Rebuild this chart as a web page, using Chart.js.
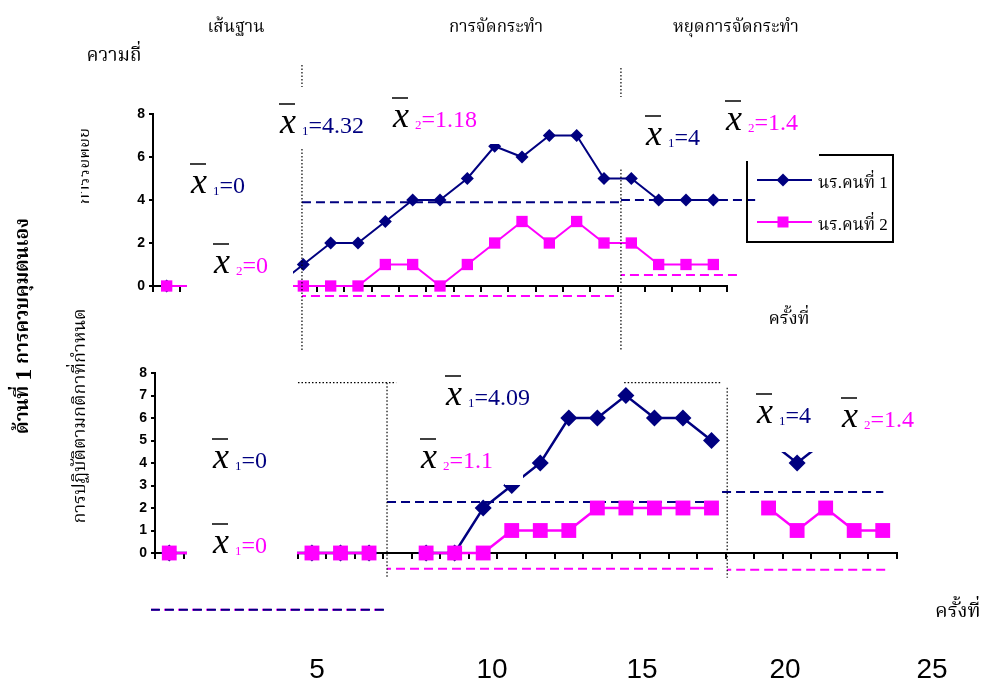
<!DOCTYPE html>
<html>
<head>
<meta charset="utf-8">
<script src="https://cdn.jsdelivr.net/npm/chart.js@4.4.0/dist/chart.umd.min.js"></script>
<style>
html, body { margin: 0; padding: 0; background: #fff; }
#wrap { position: relative; width: 983px; height: 684px; overflow: hidden; }
canvas, svg { position: absolute; left: 0; top: 0; }
</style>
</head>
<body>
<div id="wrap">
  <canvas id="chartTop" width="983" height="684"></canvas>
  <canvas id="chartBottom" width="983" height="684"></canvas>
  <svg id="overlay" width="983" height="684" xmlns="http://www.w3.org/2000/svg"></svg>
</div>
<script>
const NAVY = "#000080";
const PINK = "#ff00ff";
const THAI = "'Noto Serif Thai', Norasi, 'Noto Sans Thai', Loma, Garuda, 'Tlwg Typo', 'DejaVu Sans', sans-serif";
const SERIF = "'Liberation Serif', 'Times New Roman', 'DejaVu Serif', serif";

// top chart: การรอคอย
const topSessions = [1, 2, 3, 4, 5, 6, 7, 8, 9, 10, 11, 12, 13, 14, 15, 16, 17, 18, 19, 20, 21];
const topStudent1 = [0, 0, 0, 0, 0, 1, 2, 2, 3, 4, 4, 5, 6.5, 6, 7, 7, 5, 5, 4, 4, 4];
const topStudent2 = [0, 0, 0, 0, 0, 0, 0, 0, 1, 1, 0, 1, 2, 3, 2, 3, 2, 2, 1, 1, 1];
const topYTicks = [0, 2, 4, 6, 8];

// bottom chart: การปฏิบัติตามกติกาที่กำหนด
const bottomSessions = [1, 2, 3, 4, 5, 6, 7, 8, 9, 10, 11, 12, 13, 14, 15, 16, 17, 18, 19, 20, 21, 22, 23, 24, 25, 26];
const bottomStudent1 = [0, 0, 0, 0, 0, 0, 0, 0, null, 0, 0, 2, 3, 4, 6, 6, 7, 6, 6, 5, null, 5, 4, 5, null, null];
const bottomStudent2 = [0, 0, 0, 0, 0, 0, 0, 0, null, 0, 0, 0, 1, 1, 1, 2, 2, 2, 2, 2, null, 2, 1, 2, 1, 1];
const bottomYTicks = [0, 1, 2, 3, 4, 5, 6, 7, 8];

// mean lines as drawn: [from session, to session, level]
const topMean1 = [[5.95, 17.62, 3.9], [17.62, 22.53, 4.0]];
const topMean2 = [[5.95, 17.48, -0.47], [17.62, 21.9, 0.51]];
const bottomMean1 = [[0.36, 8.56, -2.52], [8.63, 20.06, 2.27], [20.37, 26.02, 2.71]];
const bottomMean2 = [[0.36, 8.56, -2.52], [8.63, 20.23, -0.7], [20.55, 26.19, -0.74]];

// phase change lines: [[session, level], [session, level]]
const topPhase = [[[5.95, 10.28], [5.95, -2.98]], [[17.62, 10.14], [17.62, -2.98]]];
const bottomPhase = [
    [[5.51, 7.57], [8.95, 7.57]], [[8.63, 7.57], [8.63, -1.1]],
    [[16.94, 7.57], [20.37, 7.57]], [[20.55, 7.35], [20.55, -1.1]]
];

const phaseNames = ["เส้นฐาน", "การจัดกระทำ", "หยุดการจัดกระทำ"];
const seriesNames = ["นร.คนที่ 1", "นร.คนที่ 2"];
const axisNumbers = ["5", "10", "15", "20", "25"];

// mean labels: subscript, value text, student
const meanLabels = [
    ["1", "=4.32", 1], ["2", "=1.18", 2], ["1", "=0", 1], ["2", "=0", 2], ["1", "=4", 1], ["2", "=1.4", 2],
    ["1", "=4.09", 1], ["2", "=1.1", 2], ["1", "=0", 1], ["1", "=0", 2], ["1", "=4", 1], ["2", "=1.4", 2]
];
const meanLabelPos = [
    [280, 133], [393, 127], [191, 193], [214, 273], [646, 145], [726, 130],
    [446, 405], [421, 468], [213, 468], [213, 553], [757, 423], [842, 427]
];

function buildChart(id, sessions, s1, s2, means1, means2, phases, yTicks, box) {
    const datasets = [];
    phases.forEach(p => datasets.push({
        data: p.map(([x, y]) => ({ x, y })),
        borderColor: "#000", borderWidth: 1.2, borderDash: [1.5, 2],
        pointRadius: 0, clip: false, order: 0
    }));
    datasets.push({
        label: seriesNames[1], data: s2,
        borderColor: PINK, borderWidth: box.lw,
        pointStyle: "rect", pointRadius: box.sq, pointBackgroundColor: PINK, pointBorderWidth: 0,
        clip: false, order: 1
    });
    datasets.push({
        label: seriesNames[0], data: s1,
        borderColor: NAVY, borderWidth: box.lw,
        pointStyle: "rectRot", pointRadius: box.dm, pointBackgroundColor: NAVY, pointBorderWidth: 0,
        clip: false, order: 2
    });
    means1.forEach(([a, b, v]) => datasets.push({
        data: [{ x: a, y: v }, { x: b, y: v }],
        borderColor: NAVY, borderWidth: 2, borderDash: [9, 5],
        pointRadius: 0, clip: false, order: 3
    }));
    means2.forEach(([a, b, v], i) => {
        const shared = a === means1[i][0] && v === means1[i][2];
        datasets.push({
            data: [{ x: a, y: v }, { x: b, y: v }],
            borderColor: PINK, borderWidth: 2, borderDash: [9, 5],
            borderDashOffset: shared ? 1 : 5,
            pointRadius: 0, clip: false, order: shared ? 4 : 3
        });
    });

    const bounds = [0].concat(sessions).map(s => s + 0.5);
    return new Chart(document.getElementById(id), {
        type: "line",
        data: { labels: sessions, datasets },
        options: {
            responsive: false,
            animation: false,
            events: [],
            layout: { padding: { left: 0, right: box.right, top: box.top, bottom: box.bottom } },
            plugins: { legend: { display: false }, tooltip: { enabled: false } },
            scales: {
                x: {
                    type: "linear", min: 0.5, max: sessions.length + 0.5,
                    afterBuildTicks: s => { s.ticks = bounds.map(v => ({ value: v })); },
                    afterFit: s => { s.height = 6; },
                    ticks: { display: false },
                    grid: { drawOnChartArea: false, tickLength: 6, color: "#000", lineWidth: 2 },
                    border: { color: "#000", width: 2 }
                },
                y: {
                    min: 0, max: 8,
                    afterBuildTicks: s => { s.ticks = yTicks.map(v => ({ value: v })); },
                    afterFit: s => { s.width = box.left; },
                    ticks: { color: "#000", padding: 4, font: { family: "'Liberation Sans', Arial", size: 14, weight: "bold" } },
                    grid: { drawOnChartArea: false, tickLength: 4, color: "#000", lineWidth: 2 },
                    border: { color: "#000", width: 2 }
                }
            }
        }
    });
}

buildChart("chartTop", topSessions, topStudent1, topStudent2, topMean1, topMean2, topPhase, topYTicks,
    { left: 153, right: 256, top: 114, bottom: 392, lw: 2, sq: 8, dm: 6.5 });
buildChart("chartBottom", bottomSessions, bottomStudent1, bottomStudent2, bottomMean1, bottomMean2, bottomPhase, bottomYTicks,
    { left: 155, right: 86, top: 373, bottom: 125, lw: 2.5, sq: 10.5, dm: 8.5 });

// overlay: white patches, texts, legend
let svg = "";
const white = [
    [187, 104, 106, 192], [187, 366, 110, 196], [478, 100, 30, 44], [505, 455, 18, 30],
    [278, 87, 92, 60], [615, 97, 85, 71], [750, 388, 86, 64]
];
white.forEach(([x, y, w, h]) => { svg += `<rect x="${x}" y="${y}" width="${w}" height="${h}" fill="#fff"/>`; });

function txt(x, y, s, size, extra) {
    return `<text x="${x}" y="${y}" font-size="${size}" ${extra || ""}>${s}</text>`;
}

// phase titles
svg += txt(236, 32, phaseNames[0], 17, `text-anchor="middle" font-family="${THAI}"`);
svg += txt(496, 32, phaseNames[1], 17, `text-anchor="middle" font-family="${THAI}"`);
svg += txt(736, 32, phaseNames[2], 17, `text-anchor="middle" font-family="${THAI}"`);
svg += txt(114, 61, "ความถี่", 19, `text-anchor="middle" font-family="${THAI}"`);
svg += txt(789, 324, "ครั้งที่", 18, `text-anchor="middle" font-family="${THAI}"`);
svg += txt(935, 617, "ครั้งที่", 20, `font-family="${THAI}"`);

// rotated labels
svg += `<text transform="translate(23,326) rotate(-90)" text-anchor="middle" dominant-baseline="central" font-family="${THAI}" font-weight="bold" font-size="19">ด้านที่ <tspan font-family="${SERIF}" font-size="24">1</tspan>  การควบคุมตนเอง</text>`;
svg += `<clipPath id="cl"><rect x="81" y="100" width="30" height="120"/></clipPath>`;
svg += `<g clip-path="url(#cl)"><text transform="translate(84,166) rotate(-90)" text-anchor="middle" dominant-baseline="central" font-family="${THAI}" font-size="17">การรอคอย</text></g>`;
svg += `<text transform="translate(80,416) rotate(-90)" text-anchor="middle" dominant-baseline="central" font-family="${THAI}" font-size="18">การปฏิบัติตามกติกาที่กำหนด</text>`;

// mean labels
meanLabels.forEach(([sub, val, who], i) => {
    const [x, y] = meanLabelPos[i];
    const c = who === 1 ? NAVY : PINK;
    svg += `<text x="${x}" y="${y}" font-family="${SERIF}"><tspan font-style="italic" font-size="36" fill="#000">x</tspan><tspan dx="6" dy="2" font-size="13" fill="${c}">${sub}</tspan><tspan dy="-2" font-size="24" fill="${c}">${val}</tspan></text>`;
    svg += `<line x1="${x - 1}" x2="${x + 15}" y1="${y - 29}" y2="${y - 29}" stroke="#000" stroke-width="1.5"/>`;
});

// legend
svg += `<path d="M819 155 H893 V242 H747 V161" fill="none" stroke="#000" stroke-width="2"/>`;
svg += `<line x1="757" x2="812" y1="180" y2="180" stroke="${NAVY}" stroke-width="2"/>`;
svg += `<polygon points="783,173.5 789.5,180 783,186.5 776.5,180" fill="${NAVY}"/>`;
svg += txt(818, 188, seriesNames[0], 17, `font-family="${SERIF}, ${THAI}"`);
svg += `<line x1="757" x2="812" y1="222" y2="222" stroke="${PINK}" stroke-width="2"/>`;
svg += `<rect x="777.5" y="216.5" width="11" height="11" fill="${PINK}"/>`;
svg += txt(818, 230, seriesNames[1], 17, `font-family="${SERIF}, ${THAI}"`);

// bottom numbers
const numberCentres = [317, 492, 642, 785, 932];
axisNumbers.forEach((n, i) => {
    svg += txt(numberCentres[i], 678, n, 28, `text-anchor="middle" font-family="'Liberation Sans', Arial"`);
});

document.getElementById("overlay").innerHTML = svg;
</script>
</body>
</html>
